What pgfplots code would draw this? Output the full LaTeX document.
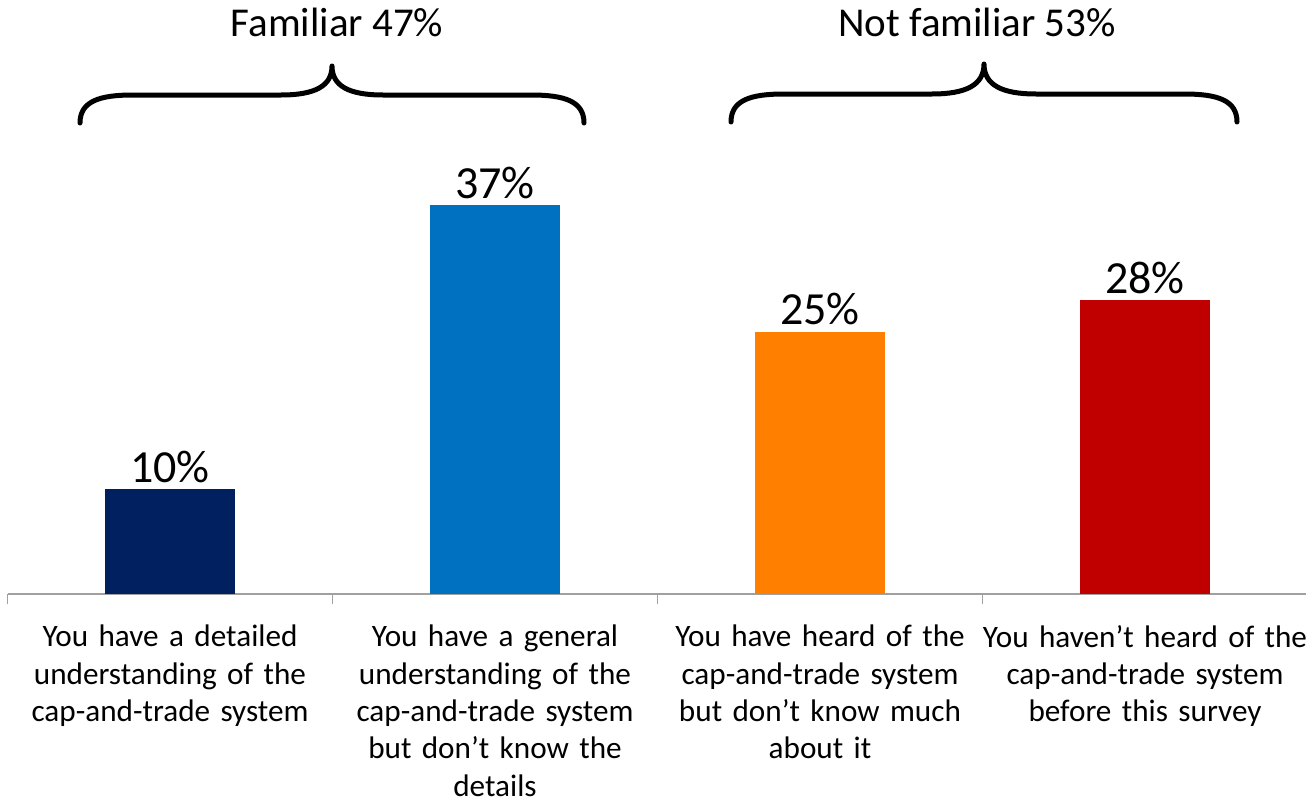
\documentclass[border=0pt]{standalone}
\usepackage{fontspec}
\setmainfont{Carlito}
\usepackage{pgfplots}
\pgfplotsset{compat=1.18}

\definecolor{barnavy}{HTML}{002060}
\definecolor{barblue}{HTML}{0070C0}
\definecolor{barorange}{HTML}{FF8000}
\definecolor{barred}{HTML}{C00000}
\definecolor{axisgray}{HTML}{A0A0A0}

\begin{document}
\begin{tikzpicture}
\begin{axis}[
    at={(0,0)}, anchor=south west,
    scale only axis, width=650pt, height=297pt,
    xmin=-0.5, xmax=3.5, ymin=0, ymax=56.57,
    axis x line*=bottom, axis y line=none,
    x axis line style={-, draw=axisgray, line width=0.85pt},
    xtick={0,1,2,3},
    major tick length=0pt,
    xticklabels={
        {You have a detailed\\understanding of the\\cap-and-trade system},
        {You have a general\\understanding of the\\cap-and-trade system\\but don’t know the\\details},
        {You have heard of the\\cap-and-trade system\\but don’t know much\\about it},
        {You haven’t heard of the\\cap-and-trade system\\before this survey}},
    x tick label style={font=\fontsize{15.6}{18.7}\selectfont, align=center,
        text width=170pt, yshift=-12pt},
    extra x ticks={-0.5,0.5,1.5,2.5,3.5},
    extra x tick labels={},
    extra x tick style={major tick length=5pt, tick align=outside,
        tick style={draw=axisgray, line width=0.85pt},
        x tick label style={text width=0pt}},
    ybar, bar width=65pt, bar shift=0pt,
    nodes near coords={\pgfmathprintnumber{\pgfplotspointmeta}\%},
    every node near coord/.append style={font=\fontsize{23}{23}\selectfont, anchor=base, yshift=3.5pt},
    /pgf/number format/assume math mode=true,
    clip=false,
]
\addplot[fill=barnavy, draw=none] coordinates {(0,10)};
\addplot[fill=barblue, draw=none] coordinates {(1,37)};
\addplot[fill=barorange, draw=none] coordinates {(2,25)};
\addplot[fill=barred, draw=none] coordinates {(3,28)};
\end{axis}

% braces and group titles, in the reference's pixel grid (y downwards)
\begin{scope}[x=0.5pt,y=-0.5pt,xshift=-3.75pt,yshift=297pt]
\draw[line width=2.5pt, line cap=round, line join=round]
    (80,123) .. controls (80,101) and (100,95) .. (133,95) -- (281,95)
    .. controls (315,95) and (332,86) .. (332,66)
    .. controls (332,86) and (349,95) .. (383,95) -- (531,95)
    .. controls (564,95) and (584,101) .. (584,123);
\draw[line width=2.5pt, line cap=round, line join=round]
    (731,122) .. controls (731,100) and (751,94) .. (784,94) -- (932,94)
    .. controls (966,94) and (984,85) .. (984,64)
    .. controls (984,85) and (1002,94) .. (1036,94) -- (1184,94)
    .. controls (1217,94) and (1237,100) .. (1237,122);
\node[anchor=base, font=\fontsize{20.5}{20.5}\selectfont] at (337,36) {Familiar 47\%};
\node[anchor=base, font=\fontsize{20.5}{20.5}\selectfont] at (977,36) {Not familiar 53\%};
\pgfresetboundingbox
\path[use as bounding box] (0,0) rectangle (1306,805);
\end{scope}
\end{tikzpicture}
\end{document}
